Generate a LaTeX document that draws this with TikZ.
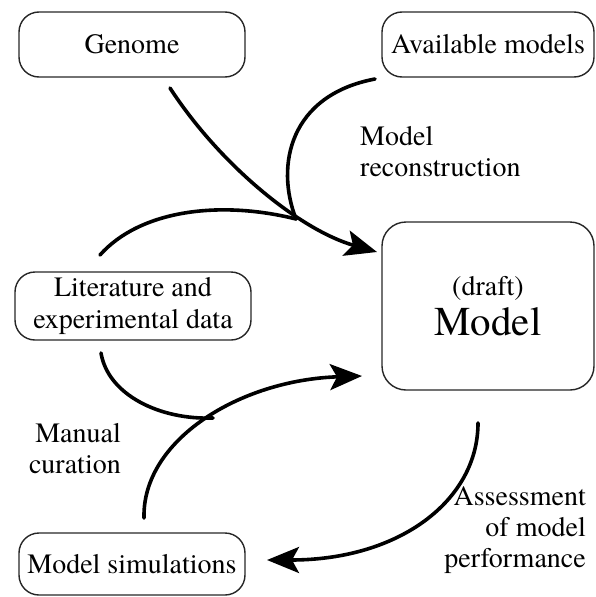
\documentclass[tikz,border=0pt]{standalone}
\usepackage{fontspec}
\setmainfont{TeX Gyre Termes}
\usetikzlibrary{arrows.meta}
\begin{document}
\begin{tikzpicture}[x=1pt,y=-1pt,
  box/.style={draw=black!85, line width=1.4pt, rounded corners=20pt, inner sep=0pt,
              align=center, font=\fontsize{28}{32}\selectfont},
  lbl/.style={inner sep=0pt, font=\fontsize{28}{31}\selectfont},
  flow/.style={line width=3.6pt, line cap=round},
  tip/.style={-{Stealth[length=32pt,width=26pt,inset=7pt]}}]
\useasboundingbox (0,0) rectangle (596,597);

% boxes
\node[box, minimum width=226pt, minimum height=65pt] (genome) at (132,44.5) {Genome};
\node[box, minimum width=212pt, minimum height=65pt] (avail) at (488,44.5) {Available models};
\node[box, minimum width=236pt, minimum height=68pt] (lit) at (133,306) {Literature and\\experimental data};
\node[box, rounded corners=24pt, minimum width=212pt, minimum height=168pt] (model) at (488,306)
  {(draft)\\[6pt]{\fontsize{41}{41}\selectfont Model}};
\node[box, minimum width=226pt, minimum height=62pt] (sim) at (132,564) {Model simulations};

% labels
\node[lbl, anchor=west, align=left] (recon) at (360,152) {Model\\reconstruction};
\node[lbl, anchor=east, align=right] (cur) at (121,449) {Manual\\curation};
\node[lbl, anchor=east, align=right] (assess) at (586,530) {Assessment\\of model\\performance};

% connector end points
\coordinate (gs) at (170,88);
\coordinate (as) at (375,79);
\coordinate (ls) at (100,255);
\coordinate (top) at (296,219);
\coordinate (mt) at (377,252);
\coordinate (lb) at (101,353);
\coordinate (low) at (213,418);
\coordinate (ss) at (144,518);
\coordinate (mb) at (362,376);
\coordinate (ms) at (478,423);
\coordinate (st) at (267,560);

% model reconstruction
\draw[flow, tip] (gs) .. controls (220,165) and (300,230) .. (mt);
\draw[flow] (as) .. controls (290,95) and (275,165) .. (top);
\draw[flow] (ls) .. controls (140,210) and (220,200) .. (top);

% manual curation
\draw[flow] (lb) .. controls (108,395) and (160,420) .. (low);
\draw[flow, tip] (ss) .. controls (142,440) and (240,380) .. (mb);

% assessment of model performance
\draw[flow, tip] (ms) .. controls (478,500) and (400,560) .. (st);
\end{tikzpicture}
\end{document}
